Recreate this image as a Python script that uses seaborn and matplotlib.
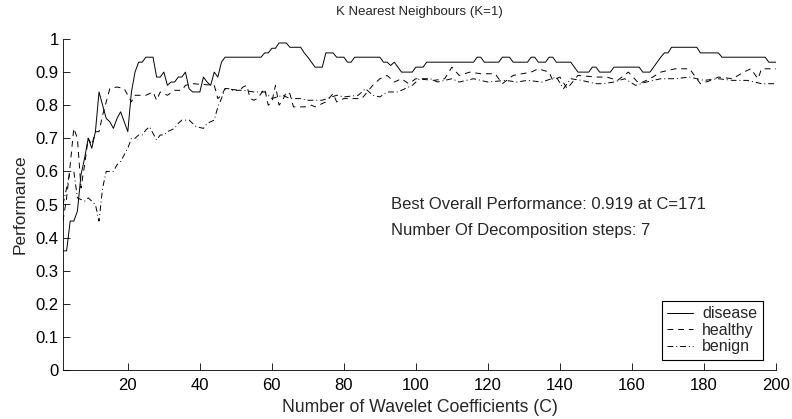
import matplotlib
matplotlib.use("Agg")
import matplotlib.pyplot as plt
import seaborn as sns
import pandas as pd

# ---- data ----
disease_x = [2, 3, 4, 5, 6, 7, 8, 9, 10, 11, 12, 13, 14, 15, 16, 17, 18, 19, 20, 21, 22, 23, 24, 25, 27,
             28, 29, 30, 31, 32, 33, 34, 35, 36, 37, 38, 40, 41, 42, 43, 44, 45, 46, 47, 57, 58, 59, 60,
             61, 62, 64, 65, 68, 69, 70, 71, 72, 74, 75, 77, 78, 80, 81, 82, 83, 90, 91, 92, 93, 94, 95,
             96, 97, 99, 100, 102, 103, 116, 117, 118, 119, 123, 124, 126, 127, 131, 132, 133, 134, 136,
             137, 138, 139, 143, 144, 145, 148, 149, 150, 151, 154, 155, 162, 163, 165, 166, 167, 168,
             169, 170, 171, 178, 179, 184, 185, 197, 198, 200]
disease_y = [0.36, 0.36, 0.45, 0.45, 0.48, 0.59, 0.64, 0.70, 0.67, 0.72, 0.84, 0.80, 0.76, 0.75, 0.73,
             0.76, 0.78, 0.75, 0.72, 0.84, 0.90, 0.93, 0.93, 0.945, 0.945, 0.885, 0.885, 0.90, 0.86, 0.87,
             0.87, 0.885, 0.885, 0.90, 0.85, 0.84, 0.84, 0.885, 0.87, 0.86, 0.90, 0.885, 0.93, 0.945, 0.945,
             0.958, 0.958, 0.972, 0.972, 0.988, 0.988, 0.975, 0.975, 0.958, 0.945, 0.93, 0.915, 0.915,
             0.958, 0.958, 0.945, 0.945, 0.93, 0.93, 0.945, 0.945, 0.93, 0.93, 0.92, 0.93, 0.915, 0.90,
             0.90, 0.90, 0.915, 0.915, 0.93, 0.93, 0.945, 0.945, 0.93, 0.93, 0.945, 0.945, 0.93, 0.93,
             0.945, 0.945, 0.93, 0.93, 0.945, 0.945, 0.93, 0.93, 0.915, 0.90, 0.90, 0.915, 0.915, 0.90,
             0.90, 0.915, 0.915, 0.90, 0.90, 0.915, 0.93, 0.945, 0.958, 0.958, 0.975, 0.975, 0.958, 0.958,
             0.945, 0.945, 0.93, 0.93]

healthy_x = [2, 3, 4, 5, 6, 7, 8, 9, 10, 11, 12, 13, 14, 15, 17, 19, 20, 21, 22, 25, 27, 28, 29, 31, 33,
             35, 36, 38, 44, 45, 46, 47, 51, 52, 53, 54, 55, 56, 57, 58, 59, 60, 61, 62, 63, 64, 65, 66,
             70, 71, 72, 75, 77, 78, 80, 83, 85, 88, 90, 92, 94, 96, 98, 100, 105, 108, 110, 112, 115,
             118, 122, 124, 127, 132, 134, 137, 138, 140, 142, 145, 150, 153, 156, 159, 162, 165, 168,
             172, 176, 179, 182, 184, 188, 191, 193, 195, 196, 200]
healthy_y = [0.45, 0.52, 0.62, 0.73, 0.70, 0.55, 0.62, 0.70, 0.68, 0.72, 0.72, 0.77, 0.81, 0.85, 0.855,
             0.85, 0.83, 0.81, 0.83, 0.83, 0.84, 0.815, 0.84, 0.83, 0.845, 0.845, 0.86, 0.865, 0.86, 0.82,
             0.83, 0.85, 0.845, 0.855, 0.86, 0.82, 0.815, 0.82, 0.835, 0.85, 0.80, 0.81, 0.86, 0.80, 0.815,
             0.84, 0.835, 0.795, 0.795, 0.80, 0.795, 0.81, 0.835, 0.81, 0.82, 0.82, 0.82, 0.86, 0.88, 0.89,
             0.87, 0.88, 0.865, 0.88, 0.875, 0.88, 0.915, 0.89, 0.90, 0.895, 0.895, 0.865, 0.89, 0.90,
             0.91, 0.90, 0.875, 0.885, 0.85, 0.89, 0.885, 0.885, 0.875, 0.90, 0.865, 0.88, 0.90, 0.91,
             0.91, 0.865, 0.875, 0.885, 0.88, 0.90, 0.91, 0.88, 0.91, 0.91]

benign_x = [2, 3, 4, 5, 6, 8, 9, 10, 11, 12, 13, 14, 16, 17, 18, 19, 20, 21, 22, 23, 24, 25, 26, 27, 28,
            29, 30, 31, 32, 33, 34, 35, 37, 38, 39, 41, 42, 43, 44, 45, 46, 47, 48, 49, 52, 55, 58, 60,
            63, 65, 68, 70, 74, 78, 80, 84, 86, 88, 90, 92, 95, 97, 99, 101, 104, 106, 110, 112, 116,
            120, 125, 128, 131, 135, 139, 141, 143, 146, 150, 152, 155, 158, 161, 164, 168, 172, 176,
            180, 184, 188, 192, 196, 200]
benign_y = [0.50, 0.55, 0.60, 0.60, 0.52, 0.51, 0.52, 0.51, 0.50, 0.45, 0.55, 0.60, 0.60, 0.62, 0.63,
            0.65, 0.67, 0.70, 0.70, 0.71, 0.71, 0.725, 0.735, 0.715, 0.695, 0.71, 0.71, 0.72, 0.725, 0.73,
            0.745, 0.755, 0.755, 0.745, 0.735, 0.73, 0.745, 0.75, 0.755, 0.795, 0.82, 0.85, 0.85, 0.845,
            0.845, 0.84, 0.84, 0.82, 0.83, 0.82, 0.82, 0.815, 0.815, 0.83, 0.825, 0.83, 0.85, 0.83, 0.825,
            0.84, 0.84, 0.85, 0.86, 0.88, 0.88, 0.87, 0.88, 0.87, 0.88, 0.87, 0.875, 0.87, 0.875, 0.87,
            0.885, 0.85, 0.88, 0.875, 0.865, 0.865, 0.87, 0.88, 0.86, 0.87, 0.88, 0.88, 0.885, 0.875,
            0.88, 0.875, 0.875, 0.865, 0.865]

series_names = ["disease", "healthy", "benign"]
x_ticks = [20, 40, 60, 80, 100, 120, 140, 160, 180, 200]
y_ticks = [0, 0.1, 0.2, 0.3, 0.4, 0.5, 0.6, 0.7, 0.8, 0.9, 1]
y_tick_labels = ["0", "0.1", "0.2", "0.3", "0.4", "0.5", "0.6", "0.7", "0.8", "0.9", "1"]

# ---- styling ----
sns.set_style("ticks")
plt.rcParams["font.family"] = ["Liberation Sans", "DejaVu Sans"]
plt.rcParams["font.size"] = 12

fig = plt.figure(figsize=(7.92, 4.19), dpi=100)
ax = fig.add_axes([63 / 792, 49 / 419, (776 - 63) / 792, (370 - 39) / 419])

frames = {
    "disease": pd.DataFrame({"C": disease_x, "perf": disease_y}),
    "healthy": pd.DataFrame({"C": healthy_x, "perf": healthy_y}),
    "benign": pd.DataFrame({"C": benign_x, "perf": benign_y}),
}
styles = {"disease": "-", "healthy": (0, (6, 5)), "benign": (0, (6, 3, 1, 3))}

for name in series_names:
    sns.lineplot(data=frames[name], x="C", y="perf", ax=ax, color="black",
                 linewidth=0.7, linestyle=styles[name], label=name)

ax.set_xlim(2, 200)
ax.set_ylim(0, 1)
ax.set_xticks(x_ticks)
ax.set_yticks(y_ticks)
ax.set_yticklabels(y_tick_labels)
ax.tick_params(direction="in", length=5, width=0.6, colors="black", labelsize=12)
ax.tick_params(axis="x", pad=6)
ax.tick_params(axis="y", pad=3)
for side in ["top", "right"]:
    ax.spines[side].set_visible(False)
for side in ["left", "bottom"]:
    ax.spines[side].set_linewidth(0.6)
    ax.spines[side].set_color("black")

ax.set_title("K Nearest Neighbours (K=1)", fontsize=9.5, pad=17.5)
ax.set_xlabel("Number of Wavelet Coefficients (C)", fontsize=12.7, labelpad=4)
ax.set_ylabel("Performance", fontsize=12.5, labelpad=6)

ax.text(93, 0.50, "Best Overall Performance: 0.919 at C=171", fontsize=12, va="center", ha="left")
ax.text(93, 0.42, "Number Of Decomposition steps: 7", fontsize=12, va="center", ha="left")

leg = ax.legend(loc="lower right", bbox_to_anchor=(763 / 792, (419 - 360) / 419),
                bbox_transform=fig.transFigure, frameon=True, fancybox=False,
                edgecolor="black", framealpha=1, fontsize=11.5, handlelength=1.6,
                borderpad=0.35, labelspacing=0.1, handletextpad=0.6, borderaxespad=0)
leg.get_frame().set_linewidth(0.8)

fig.savefig("out.png", dpi=100)
